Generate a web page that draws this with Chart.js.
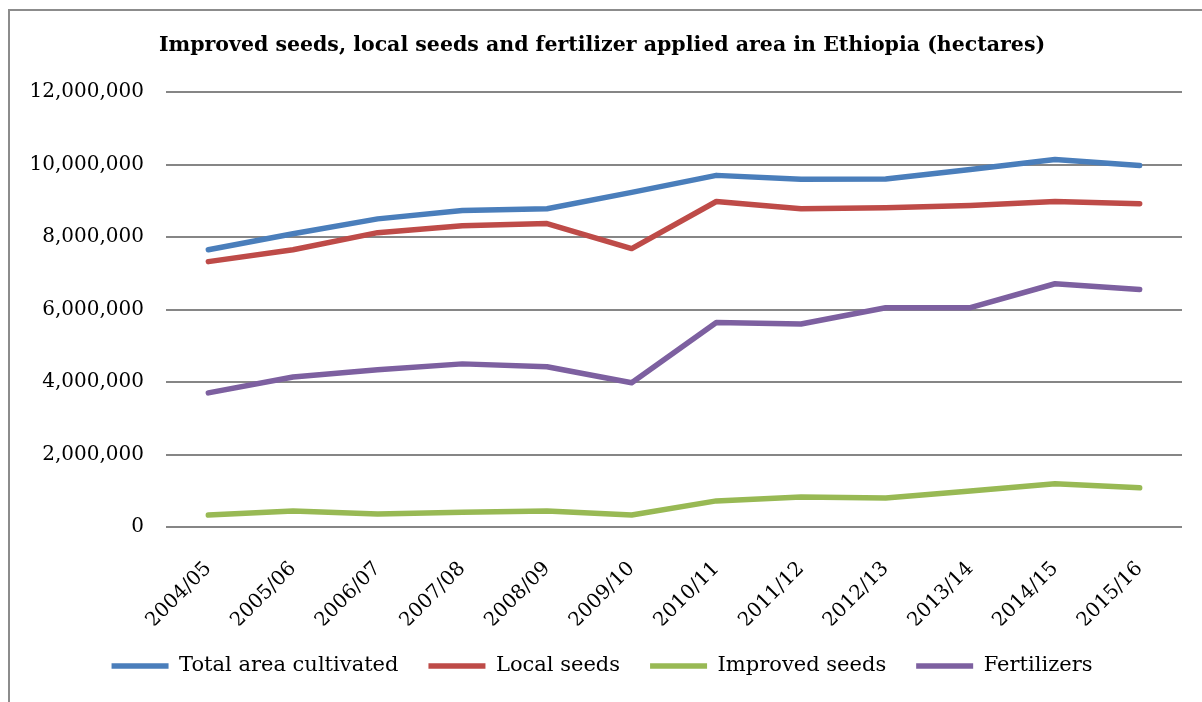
<!DOCTYPE html>
<html>
<head>
<meta charset="utf-8">
<title>Improved seeds, local seeds and fertilizer applied area in Ethiopia</title>
<script src="https://cdn.jsdelivr.net/npm/chart.js@4/dist/chart.umd.min.js"></script>
<style>
    html, body { margin: 0; padding: 0; background: #fff; }
    #wrap { position: relative; width: 1202px; height: 702px; }
</style>
</head>
<body>
<div id="wrap"><canvas id="areaChart"></canvas></div>
<script>
// Cultivated area by input type, Ethiopia (hectares)

const seasons = ['2004/05', '2005/06', '2006/07', '2007/08', '2008/09', '2009/10',
    '2010/11', '2011/12', '2012/13', '2013/14', '2014/15', '2015/16'];

const totalArea = [7650000, 8090000, 8500000, 8730000, 8780000, 9230000,
    9700000, 9590000, 9600000, 9860000, 10140000, 9970000];
const localSeeds = [7320000, 7650000, 8120000, 8310000, 8370000, 7680000,
    8980000, 8780000, 8810000, 8870000, 8980000, 8920000];
const improvedSeeds = [330000, 440000, 360000, 410000, 440000, 330000,
    720000, 830000, 800000, 990000, 1190000, 1080000];
const fertilizers = [3700000, 4140000, 4340000, 4500000, 4420000, 3980000,
    5640000, 5600000, 6050000, 6050000, 6710000, 6550000];

const yTicks = [0, 2000000, 4000000, 6000000, 8000000, 10000000, 12000000];

const serif = '"DejaVu Serif", "Liberation Serif", serif';

// grey frame around the whole chart
const framePlugin = {
    id: 'frame',
    beforeDraw(chart) {
        const ctx = chart.ctx;
        ctx.save();
        ctx.fillStyle = '#fff';
        ctx.fillRect(0, 0, chart.width, chart.height);
        ctx.strokeStyle = '#8c8c8c';
        ctx.lineWidth = 2;
        ctx.strokeRect(9, 10, chart.width + 20, chart.height + 20);
        ctx.restore();
    }
};

function series(label, data, color) {
    return {
        label: label,
        data: data,
        borderColor: color,
        backgroundColor: color,
        borderWidth: 5.5,
        borderCapStyle: 'round',
        borderJoinStyle: 'round',
        pointRadius: 0,
        pointHoverRadius: 0,
        tension: 0,
        fill: false
    };
}

new Chart(document.getElementById('areaChart'), {
    type: 'line',
    data: {
        labels: seasons,
        datasets: [
            series('Total area cultivated', totalArea, '#4a7ebb'),
            series('Local seeds', localSeeds, '#be4b48'),
            series('Improved seeds', improvedSeeds, '#98b954'),
            series('Fertilizers', fertilizers, '#7d60a0')
        ]
    },
    options: {
        responsive: true,
        maintainAspectRatio: false,
        animation: false,
        layout: {
            padding: { left: 22, right: 20, top: 0, bottom: 15.5 }
        },
        plugins: {
            title: {
                display: true,
                text: 'Improved seeds, local seeds and fertilizer applied area in Ethiopia (hectares)',
                color: '#000',
                font: { family: serif, size: 20.5, weight: 'bold' },
                padding: { top: 33, bottom: 34.4 }
            },
            legend: {
                position: 'bottom',
                labels: {
                    color: '#000',
                    font: { family: serif, size: 21 },
                    usePointStyle: true,
                    pointStyle: 'line',
                    pointStyleWidth: 57,
                    padding: 30
                }
            },
            tooltip: { enabled: false }
        },
        scales: {
            x: {
                offset: true,
                grid: { display: false },
                border: { display: false },
                ticks: {
                    color: '#000',
                    font: { family: serif, size: 20 },
                    minRotation: 45,
                    maxRotation: 45,
                    padding: 22
                },
                afterFit(scale) {
                    scale.height = 98.5;
                }
            },
            y: {
                min: 0,
                max: 12000000,
                afterBuildTicks(scale) {
                    scale.ticks = yTicks.map(v => ({ value: v }));
                },
                grid: {
                    color: '#868686',
                    lineWidth: 2,
                    drawTicks: false
                },
                border: { display: false },
                ticks: {
                    color: '#000',
                    font: { family: serif, size: 20 },
                    padding: 22,
                    callback: function(value) {
                        return value.toLocaleString('en-US');
                    }
                },
                afterFit(scale) {
                    scale.width = 144;
                }
            }
        }
    },
    plugins: [framePlugin]
});
</script>
</body>
</html>
